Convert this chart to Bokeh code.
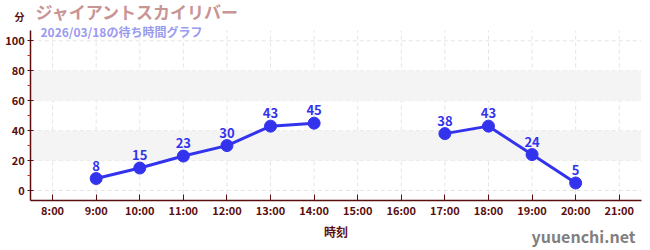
from bokeh.plotting import figure
from bokeh.models import (ColumnDataSource, Label, BoxAnnotation, FixedTicker,
                          Range1d, CustomJSTickFormatter)
from bokeh.core.properties import value
from bokeh.embed import file_html
from bokeh.resources import INLINE
import numpy as np

# Wait times (minutes) per hour; None = no data
hours = [9, 10, 11, 12, 13, 14, 15, 16, 17, 18, 19, 20]
waits = [8, 15, 23, 30, 43, 45, None, None, 38, 43, 24, 5]
hour_ticks = list(range(8, 22))
wait_ticks = [0, 20, 40, 60, 80, 100]
wait_minor = [10, 30, 50, 70, 90]
bands = [(20, 40), (60, 80)]

title_text = "ジャイアントスカイリバー"
subtitle_text = "2026/03/18の待ち時間グラフ"
y_unit = "分"
x_label = "時刻"
site = "yuuenchi.net"

FONT = "Noto Sans CJK JP"
AXIS_COLOR = "#5a0e0e"
LINE_COLOR = "#3333ee"
GRID_COLOR = "#e4e4e4"

# data extent of the plotting area (axes are pinned inside a full-canvas frame)
X_LO, X_HI = 7.5, 21.5
Y_LO, Y_HI = -6.7, 106.9

y_arr = np.array([np.nan if v is None else v for v in waits], dtype=float)
src = ColumnDataSource(dict(x=hours, y=y_arr))
pts = ColumnDataSource(dict(
    x=[h for h, v in zip(hours, waits) if v is not None],
    y=[v for v in waits if v is not None],
    t=[str(v) for v in waits if v is not None],
))

p = figure(width=650, height=250, output_backend="svg", toolbar_location=None,
           x_range=Range1d(6.805, 21.717), y_range=Range1d(-40.1, 126.95),
           min_border=0)
p.outline_line_color = None
p.background_fill_color = "white"
p.border_fill_color = "white"
p.xgrid.visible = False
p.ygrid.visible = False

# alternating light bands
for lo, hi in bands:
    p.add_layout(BoxAnnotation(bottom=lo, top=hi, left=X_LO, right=X_HI,
                               fill_color="#f4f4f4", fill_alpha=1,
                               line_color=None, level="underlay"))

# dashed grid lines confined to the plotting area
p.segment(x0=hour_ticks, x1=hour_ticks, y0=[Y_LO] * len(hour_ticks),
          y1=[Y_HI] * len(hour_ticks), line_color=GRID_COLOR,
          line_dash="4 3", line_width=1, level="underlay")
p.segment(x0=[X_LO] * len(wait_ticks), x1=[X_HI] * len(wait_ticks),
          y0=wait_ticks, y1=wait_ticks, line_color=GRID_COLOR,
          line_dash="4 3", line_width=1, level="underlay")

p.xaxis.ticker = FixedTicker(ticks=hour_ticks)
p.xaxis.formatter = CustomJSTickFormatter(code="return tick + ':00';")
p.yaxis.ticker = FixedTicker(ticks=wait_ticks, minor_ticks=wait_minor)
p.xaxis.fixed_location = Y_LO
p.yaxis.fixed_location = X_LO
p.xaxis.bounds = (X_LO, X_HI)
p.yaxis.bounds = (Y_LO, Y_HI)

for ax in (p.xaxis[0], p.yaxis[0]):
    ax.axis_line_color = AXIS_COLOR
    ax.axis_line_width = 1.5
    ax.major_tick_line_color = AXIS_COLOR
    ax.major_label_text_color = AXIS_COLOR
    ax.major_label_text_font = FONT
    ax.major_label_text_font_size = "11px"
    ax.major_label_text_font_style = "bold"
    ax.minor_tick_line_color = "#cc2222"

p.xaxis.major_tick_in = 6
p.xaxis.major_tick_out = 0
p.xaxis.minor_tick_line_color = None
p.xaxis.major_label_standoff = 1
p.yaxis.major_tick_in = 3
p.yaxis.major_tick_out = 3
p.yaxis.minor_tick_in = 0
p.yaxis.minor_tick_out = 3
p.yaxis.major_label_standoff = 3

p.xaxis.axis_label = x_label
p.xaxis.axis_label_text_font = FONT
p.xaxis.axis_label_text_font_size = "12px"
p.xaxis.axis_label_text_font_style = "bold"
p.xaxis.axis_label_text_color = AXIS_COLOR
p.xaxis.axis_label_standoff = 2

p.line("x", "y", source=src, line_color=LINE_COLOR, line_width=3)
p.scatter("x", "y", source=pts, size=12, fill_color=LINE_COLOR,
          line_color=LINE_COLOR)
p.text("x", "y", text="t", source=pts, y_offset=-8, text_align="center",
       text_baseline="bottom", text_font=value(FONT), text_font_size="13px",
       text_font_style="bold", text_color=LINE_COLOR)

# headings and watermark (screen units measured from the bottom-left corner)
p.add_layout(Label(x=35, y=239, x_units="screen", y_units="screen",
                   text=title_text, text_font=FONT, text_font_size="17px",
                   text_font_style="bold", text_color="#c89494",
                   text_baseline="middle"))
p.add_layout(Label(x=40, y=219, x_units="screen", y_units="screen",
                   text=subtitle_text, text_font=FONT, text_font_size="12px",
                   text_font_style="bold", text_color="#9a9af0",
                   text_baseline="middle"))
p.add_layout(Label(x=14, y=234, x_units="screen", y_units="screen",
                   text=y_unit, text_font=FONT, text_font_size="10px",
                   text_font_style="bold", text_color=AXIS_COLOR,
                   text_baseline="middle"))
p.add_layout(Label(x=635, y=15, x_units="screen", y_units="screen",
                   text=site, text_font=FONT, text_font_size="16px",
                   text_font_style="bold", text_color="#808080",
                   text_align="right", text_baseline="middle"))

open("out.html", "w").write(file_html(p, INLINE))
